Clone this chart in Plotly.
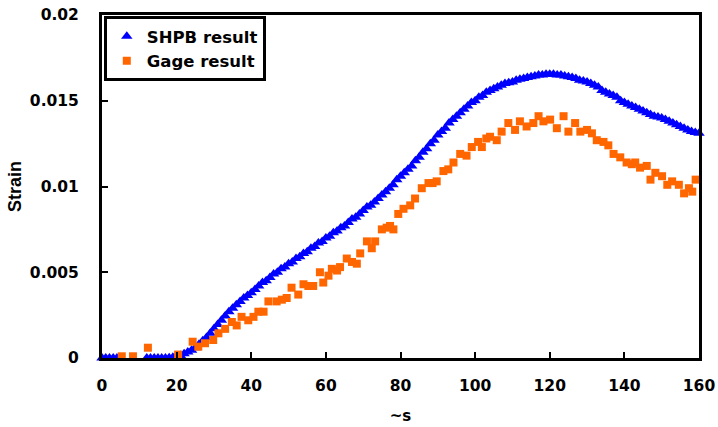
import plotly.graph_objects as go

# ---- SHPB result (blue triangles) ----
shpb_t = [0, 1, 2, 3, 4] + list(range(12, 161))
shpb_strain = [0, 0, 0, 0, 0,
    # 12..19
    0, 0, 0, 0, 0, 0, 0.00002, 0.00005,
    # 20..40
    0.0001, 0.00015, 0.00025, 0.00035, 0.00045, 0.0006, 0.0008, 0.001, 0.0012, 0.00145,
    0.0017, 0.00195, 0.0022, 0.00245, 0.0027, 0.0029, 0.0031, 0.0033, 0.0035, 0.00365, 0.0038,
    # 41..60
    0.004, 0.0042, 0.0044, 0.0045, 0.0047, 0.0049, 0.005, 0.0052, 0.0053, 0.0055,
    0.0056, 0.0058, 0.0059, 0.0061, 0.0062, 0.0064, 0.0065, 0.0067, 0.0068, 0.007,
    # 61..80
    0.0071, 0.0073, 0.0074, 0.0076, 0.0077, 0.0079, 0.0081, 0.0082, 0.0084, 0.0086,
    0.0088, 0.0089, 0.0091, 0.0093, 0.0095, 0.0097, 0.0099, 0.0101, 0.0104, 0.0106,
    # 81..100
    0.0108, 0.011, 0.0112, 0.0115, 0.0117, 0.012, 0.0122, 0.0125, 0.0127, 0.013,
    0.0132, 0.0134, 0.0137, 0.0139, 0.0141, 0.0143, 0.0145, 0.0147, 0.0149, 0.015,
    # 101..120
    0.0152, 0.0153, 0.0155, 0.0156, 0.0157, 0.0158, 0.0159, 0.0160, 0.01605, 0.0161,
    0.0162, 0.01625, 0.0163, 0.01635, 0.0164, 0.01645, 0.0165, 0.0165, 0.01655, 0.01655,
    # 121..140
    0.01655, 0.0165, 0.0165, 0.01645, 0.0164, 0.01635, 0.0163, 0.0162, 0.01615, 0.0161,
    0.016, 0.0159, 0.0158, 0.0156, 0.0155, 0.0154, 0.0153, 0.0152, 0.015, 0.0149,
    # 141..160
    0.0148, 0.0147, 0.0146, 0.0145, 0.0144, 0.0143, 0.0142, 0.0141, 0.01405, 0.014,
    0.0139, 0.0138, 0.0137, 0.0136, 0.0135, 0.0134, 0.0133, 0.0132, 0.01315, 0.0131,
]

# ---- Gage result (orange squares) ----
gage_t = [5.3, 8.3, 12.3, 20.4, 24.3, 25.8, 27.6, 29.8, 31.2, 33.0, 34.8, 36.1, 37.4, 39.2,
          40.6, 41.9, 43.3, 44.6, 46.8, 48.2, 49.5, 50.8, 52.6, 54.0, 55.3, 56.6, 58.4, 59.3,
          60.7, 61.6, 63.0, 63.8, 65.6, 67.0, 68.3, 69.2, 71.0, 72.3, 73.2, 75.0, 76.3, 77.2,
          78.1, 79.4, 80.8, 82.6, 83.9, 85.7, 87.5, 88.6, 89.7, 91.5, 92.8, 94.2, 96.0, 97.7,
          99.1, 100.8, 101.8, 103.0, 104.0, 105.8, 107.1, 108.9, 110.7, 112.0, 113.8, 115.6,
          117.0, 118.3, 120.1, 121.9, 123.7, 125.0, 126.8, 128.2, 130.0, 131.3, 132.6, 134.4,
          135.7, 137.1, 138.9, 140.6, 142.0, 142.9, 144.2, 146.0, 147.0, 148.3, 150.1, 151.5,
          152.8, 154.6, 156.0, 157.3, 158.2, 159.1]
gage_strain = [0.0001, 0.0001, 0.0006, 0.0002, 0.00095, 0.00066, 0.00086, 0.00105, 0.00144, 0.0017,
               0.0021, 0.0019, 0.0024, 0.0022, 0.0024, 0.0027, 0.0027, 0.0033, 0.0033, 0.0034,
               0.0035, 0.0041, 0.0037, 0.0043, 0.0042, 0.0042, 0.0050, 0.0044, 0.0048, 0.0052,
               0.0051, 0.0053, 0.0058, 0.0056, 0.0055, 0.0061, 0.0068, 0.0064, 0.0068, 0.0075,
               0.0076, 0.0077, 0.0075, 0.0084, 0.0087, 0.0089, 0.0093, 0.0099, 0.0102, 0.0102,
               0.0103, 0.0109, 0.0110, 0.0114, 0.0119, 0.0118, 0.0123, 0.0126, 0.0123, 0.0128,
               0.0129, 0.0127, 0.0132, 0.0137, 0.0133, 0.0138, 0.0135, 0.0137, 0.0141, 0.0138,
               0.0139, 0.0134, 0.0141, 0.0132, 0.0137, 0.0132, 0.0133, 0.0131, 0.0127, 0.0126,
               0.0124, 0.0119, 0.0117, 0.0114, 0.0113, 0.0114, 0.0111, 0.0112, 0.0104, 0.0108,
               0.0106, 0.0101, 0.0103, 0.0101, 0.0096, 0.0099, 0.0097, 0.0104]

x_ticks = [0, 20, 40, 60, 80, 100, 120, 140, 160]
y_ticks = [0, 0.005, 0.01, 0.015, 0.02]
y_tick_text = ["0", "0.005", "0.01", "0.015", "0.02"]

WIDE = "DejaVu Sans, Liberation Sans, Arial, sans-serif"
ARIAL = "Liberation Sans, Arial, sans-serif"

fig = go.Figure()
fig.add_trace(go.Scatter(
    x=shpb_t, y=shpb_strain, mode="markers", name="SHPB result",
    marker=dict(symbol="triangle-up", size=10, color="#0000FF", line=dict(width=0)),
    cliponaxis=False,
))
fig.add_trace(go.Scatter(
    x=gage_t, y=gage_strain, mode="markers", name="Gage result",
    marker=dict(symbol="square", size=8, color="#FF6600", line=dict(width=0)),
    cliponaxis=False,
))

axis_common = dict(
    showgrid=False, zeroline=False, showline=True, linecolor="black", linewidth=3,
    mirror=True, ticks="inside", ticklen=6, tickwidth=2, tickcolor="black",
    automargin=False,
)

fig.update_layout(
    width=718, height=427,
    margin=dict(l=102, r=19, t=15, b=69),
    paper_bgcolor="white", plot_bgcolor="white",
    font=dict(family=WIDE, color="black"),
    showlegend=True,
    legend=dict(
        x=0.003, y=0.997, xanchor="left", yanchor="top",
        bgcolor="white", bordercolor="black", borderwidth=3,
        font=dict(family=WIDE, size=16.5, weight="bold", color="black"),
        itemwidth=30, tracegroupgap=0,
    ),
    xaxis=dict(
        range=[0, 160], tickmode="array", tickvals=x_ticks,
        tickfont=dict(family=WIDE, size=15.5, weight="bold"),
        ticklabelstandoff=11,
        title=dict(text="~s", font=dict(family=WIDE, size=15, weight="bold"), standoff=17),
        **axis_common,
    ),
    yaxis=dict(
        range=[0, 0.02], tickmode="array", tickvals=y_ticks, ticktext=y_tick_text,
        tickfont=dict(family=WIDE, size=15.5, weight="bold"),
        ticklabelstandoff=17,
        title=dict(text="Strain", font=dict(family=ARIAL, size=18, weight="bold"), standoff=4),
        **axis_common,
    ),
)

fig.write_html("out.html", config={"displayModeBar": False},
               post_script="document.body.style.margin='0';")
